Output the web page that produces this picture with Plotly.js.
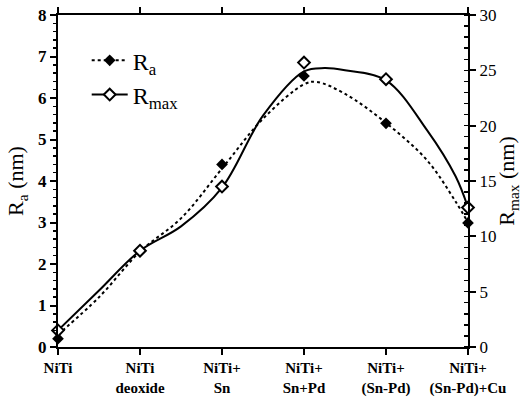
<!DOCTYPE html>
<html>
<head>
<meta charset="utf-8">
<script src="https://cdn.plot.ly/plotly-3.0.1.min.js"></script>
<style>html,body{margin:0;padding:0;background:#fff}#chart{width:522px;height:397px}</style>
</head>
<body>
<div id="chart"></div>
<script>
// categories
const categories = ["NiTi", "NiTi<br>deoxide", "NiTi+<br>Sn", "NiTi+<br>Sn+Pd", "NiTi+<br>(Sn-Pd)", "NiTi+<br>(Sn-Pd)+Cu"];
const catPos = [0, 1, 2, 3, 4, 5];
// measured values
const ra = [0.2, 2.3, 4.4, 6.53, 5.39, 2.99];          // nm (left axis)
const rmax = [1.5, 8.7, 14.5, 25.7, 24.2, 12.6];       // nm (right axis)
// smoothed fit curves
const raFitX = [0, 0.5, 1, 1.5, 2, 2.5, 3, 3.15, 3.5, 4, 4.5, 4.85, 5];
const raFitY = [0.3, 1.2, 2.3, 3.1, 4.3, 5.5, 6.33, 6.39, 6.1, 5.4, 4.5, 3.5, 3.0];
const rmaxFitX = [0, 0.5, 1, 1.5, 2, 2.5, 3, 3.25, 3.5, 4, 4.5, 4.85, 5];
const rmaxFitY = [1.5, 5.1, 8.7, 10.9, 14.4, 20.9, 24.9, 25.2, 25.0, 24.1, 19.6, 15.4, 12.6];

const serif = "Liberation Serif";

const traces = [
  {x: raFitX, y: raFitY, mode: "lines", line: {shape: "spline", dash: "dot", width: 2, color: "#000"}, showlegend: false, hoverinfo: "skip"},
  {x: rmaxFitX, y: rmaxFitY, yaxis: "y2", mode: "lines", line: {shape: "spline", width: 2, color: "#000"}, showlegend: false, hoverinfo: "skip"},
  {x: catPos, y: ra, mode: "markers", marker: {symbol: "diamond", size: 9, color: "#000"}, showlegend: false, cliponaxis: false},
  {x: catPos, y: rmax, yaxis: "y2", mode: "markers", marker: {symbol: "diamond", size: 9, color: "#fff", line: {width: 2, color: "#000"}}, showlegend: false, cliponaxis: false},
  {x: [null], y: [null], mode: "lines+markers", name: "R<sub>a</sub>", line: {dash: "dot", width: 2, color: "#000"}, marker: {symbol: "diamond", size: 9, color: "#000"}},
  {x: [null], y: [null], mode: "lines+markers", name: "R<sub>max</sub>", line: {width: 2, color: "#000"}, marker: {symbol: "diamond", size: 9, color: "#fff", line: {width: 2, color: "#000"}}}
];

const layout = {
  width: 522, height: 397,
  margin: {l: 58, r: 54, t: 15, b: 50},
  paper_bgcolor: "#fff", plot_bgcolor: "#fff",
  font: {family: serif, color: "#000"},
  showlegend: true,
  legend: {x: 0.07, y: 0.93, xanchor: "left", yanchor: "top", bgcolor: "rgba(0,0,0,0)", font: {size: 24, family: serif}, itemwidth: 36},
  xaxis: {
    range: [0, 5], tickvals: catPos, ticktext: categories,
    showline: true, linecolor: "#000", linewidth: 2, mirror: "ticks",
    ticks: "outside", ticklen: 6, tickwidth: 2, tickcolor: "#000",
    showgrid: false, zeroline: false,
    tickfont: {size: 15, family: serif, weight: "bold"}
  },
  yaxis: {
    range: [0, 8], dtick: 1,
    showline: true, linecolor: "#000", linewidth: 2,
    ticks: "outside", ticklen: 6, tickwidth: 2, tickcolor: "#000",
    minor: {dtick: 0.2, ticks: "outside", ticklen: 3, tickwidth: 1.5, tickcolor: "#000"},
    showgrid: false, zeroline: false,
    tickfont: {size: 17, family: serif, weight: "bold"},
    title: {text: "R<sub>a</sub> (nm)", font: {size: 22, family: serif}, standoff: 8}
  },
  yaxis2: {
    range: [0, 30], dtick: 5, overlaying: "y", side: "right",
    showline: true, linecolor: "#000", linewidth: 2,
    ticks: "outside", ticklen: 6, tickwidth: 2, tickcolor: "#000",
    minor: {dtick: 1, ticks: "inside", ticklen: 4, tickwidth: 1.5, tickcolor: "#000"},
    showgrid: false, zeroline: false,
    tickfont: {size: 17, family: serif},
    title: {text: "R<sub>max</sub> (nm)", font: {size: 22, family: serif}, standoff: 6}
  }
};

Plotly.newPlot("chart", traces, layout, {displayModeBar: false, staticPlot: true});
</script>
</body>
</html>
